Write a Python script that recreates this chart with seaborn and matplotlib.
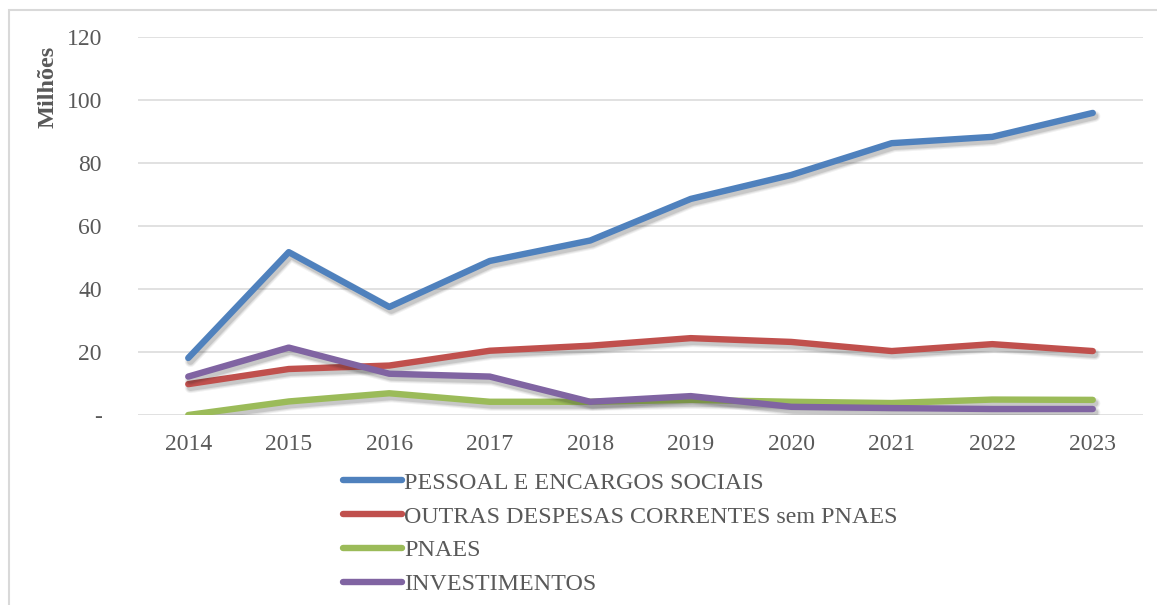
import matplotlib
matplotlib.use("Agg")
import matplotlib.pyplot as plt
import matplotlib.patheffects as pe
from matplotlib.patches import Rectangle
from matplotlib.lines import Line2D
import seaborn as sns
import pandas as pd

years = [2014, 2015, 2016, 2017, 2018, 2019, 2020, 2021, 2022, 2023]
pessoal = [18.1, 51.7, 34.3, 48.9, 55.4, 68.6, 76.2, 86.3, 88.3, 95.9]
outras = [9.8, 14.6, 15.7, 20.4, 22.0, 24.4, 23.2, 20.3, 22.5, 20.3]
pnaes = [0.0, 4.3, 6.9, 4.2, 4.2, 4.8, 4.2, 3.8, 4.9, 4.8]
invest = [12.2, 21.4, 13.1, 12.2, 4.2, 6.0, 2.6, 2.2, 1.9, 1.9]

series_names = ["PESSOAL E ENCARGOS SOCIAIS", "OUTRAS DESPESAS CORRENTES sem PNAES",
                "PNAES", "INVESTIMENTOS"]
colors = ["#4F81BD", "#C0504D", "#9BBB59", "#8064A2"]
yticks = [0, 20, 40, 60, 80, 100, 120]
ytick_labels = ["-", "20", "40", "60", "80", "100", "120"]

rows = []
for name, vals in zip(series_names, [pessoal, outras, pnaes, invest]):
    for y, v in zip(years, vals):
        rows.append({"Ano": y, "Valor": v, "Serie": name})
df = pd.DataFrame(rows)

sns.set_theme(style="white")
plt.rcParams["font.family"] = ["Liberation Serif", "DejaVu Serif"]
txt = "#595959"

fig = plt.figure(figsize=(11.57, 6.05), dpi=100)
ax = fig.add_axes([138/1157, 1-415/605, (1143-138)/1157, (415-37)/605])

for v in yticks:
    ax.axhline(v, color="#D9D9D9", lw=1.1, zorder=0)

sns.lineplot(data=df, x="Ano", y="Valor", hue="Serie", hue_order=series_names,
             palette=colors, lw=4.6, ax=ax, legend=False, sort=False)
shadow = [
    pe.SimpleLineShadow(offset=(1.5, -2.5), shadow_color="k", alpha=0.06, linewidth=8),
    pe.SimpleLineShadow(offset=(1.5, -2.5), shadow_color="k", alpha=0.08, linewidth=6.5),
    pe.SimpleLineShadow(offset=(1.5, -2.5), shadow_color="k", alpha=0.12, linewidth=5),
    pe.Normal(),
]
for ln in ax.get_lines():
    if ln.get_linewidth() > 3:
        ln.set_solid_capstyle("round")
        ln.set_solid_joinstyle("round")
        ln.set_path_effects(shadow)

ax.set_xlim(2013.5, 2023.5)
ax.set_ylim(0, 120)
ax.set_xticks(years)
ax.set_xticklabels([str(y) for y in years])
ax.set_yticks(yticks)
ax.set_yticklabels(ytick_labels)
ax.tick_params(axis="y", length=0, pad=26, labelsize=17, labelcolor=txt)
ax.tick_params(axis="x", length=0, pad=14, labelsize=17, labelcolor=txt)
ax.set_xlabel("")
ax.set_ylabel("")
for s in ax.spines.values():
    s.set_visible(False)
ax.patch.set_alpha(0)

fig.text(48/1157, 1-87/605, "Milhões", rotation=90, ha="center", va="center",
         fontsize=17.5, fontweight="bold", color=txt)

handles = [Line2D([0], [0], color=c, lw=4.6, solid_capstyle="round") for c in colors]
leg = fig.legend(handles, series_names, loc="upper left",
                 bbox_to_anchor=(343/1157, 1-472/605), frameon=False,
                 prop={"size": 17.3}, handlelength=2.45, handletextpad=0.1,
                 labelspacing=0.5, borderpad=0, borderaxespad=0)
for t in leg.get_texts():
    t.set_color(txt)

fig.patches.append(Rectangle((9/1157, -0.1), 1.2, 1.1 - 10/605, transform=fig.transFigure,
                             fill=False, edgecolor="#D9D9D9", lw=1.5, zorder=-1))

fig.savefig("out.png", dpi=100, facecolor="white")
